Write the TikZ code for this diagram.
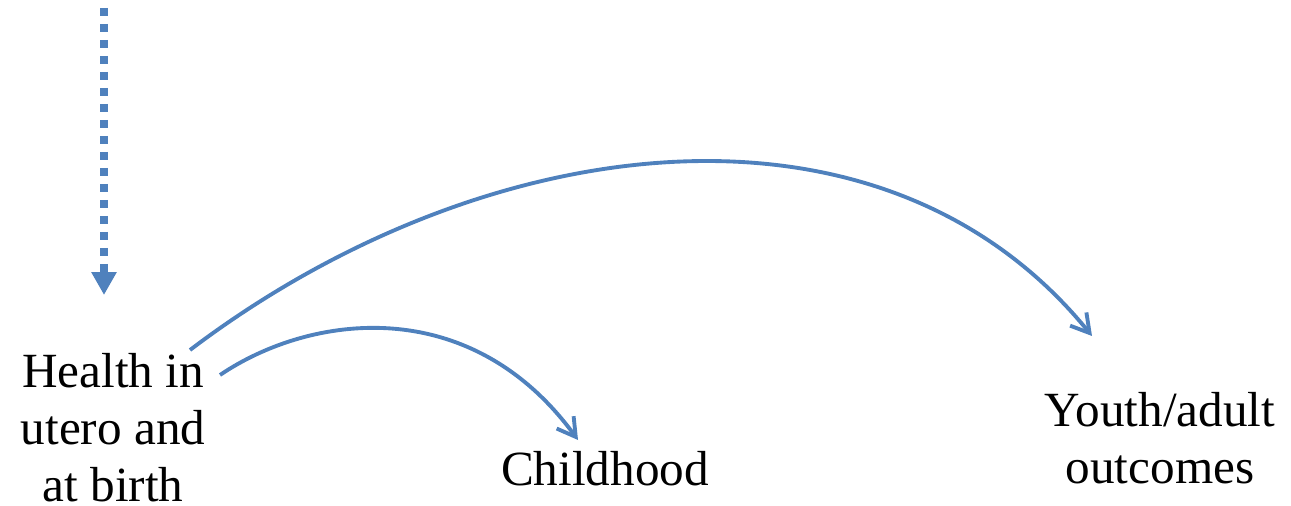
\documentclass[tikz,border=0pt]{standalone}
\usepackage{fontspec}
\setmainfont{Liberation Serif}
\usetikzlibrary{arrows.meta}
\definecolor{linkblue}{RGB}{79,129,189}
\tikzset{
	txt/.style={font=\fontsize{28}{32.4}\selectfont, align=center, inner sep=0pt},
	link/.style={draw=linkblue, line width=2.2pt, -{Straight Barb[length=0.36cm,width=0.42cm]}},
	dotlink/.style={draw=linkblue, line width=0.16cm, dash pattern=on 0.16cm off 0.16cm, -{Triangle[length=0.46cm,width=0.48cm]}}
}
\begin{document}
\begin{tikzpicture}[x=0.02cm,y=-0.02cm]
		\useasboundingbox (0,0) rectangle (1291,506);
		\node (health) at (113,428) [txt] {Health in\\utero and\\at birth};
		\node (child) at (605,485) [txt, anchor=base] {Childhood};
		\node (youth) at (1160,438) [txt] {Youth/adult\\outcomes};
		
		\coordinate (top) at (104,8);
		\coordinate (into) at (104,295);
		\coordinate (bigstart) at (190,350);
		\coordinate (bigend) at (1092,336);
		\coordinate (smallstart) at (220,375);
		\coordinate (smallend) at (578,440);
		
		\draw [dotlink] (top) -- (into);
		\draw [link] (bigstart) .. controls (480,130) and (880,75) .. (bigend);
		\draw [link] (smallstart) .. controls (310,314) and (470,292) .. (smallend);
\end{tikzpicture}
\end{document}
